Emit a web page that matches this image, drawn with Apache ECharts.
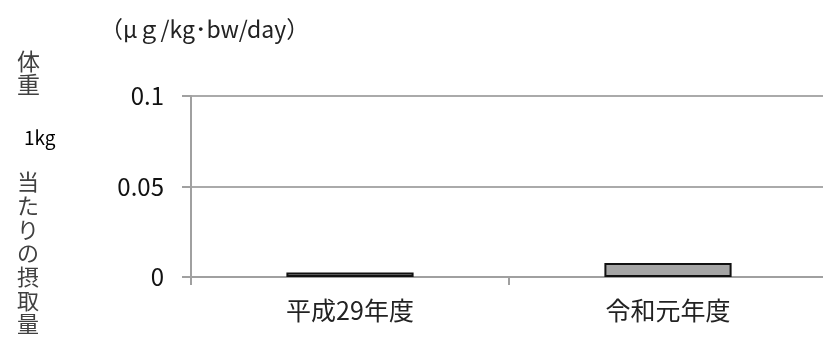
<!DOCTYPE html>
<html lang="ja">
<head>
    <meta charset="UTF-8">
    <title>摂取量</title>
    <script src="https://cdn.jsdelivr.net/npm/echarts@6/dist/echarts.min.js"></script>
    <style>
        html, body { margin: 0; padding: 0; background: #fff; }
        #main { width: 823px; height: 338px; }
    </style>
</head>
<body>
<div id="main"></div>
<script>
    var years = ['平成29年度', '令和元年度'];
    var intake = [0.0025, 0.0077];
    var yTicks = [0, 0.05, 0.1];

    var font = '"Noto Sans CJK JP", "Noto Sans", sans-serif';
    var chart = echarts.init(document.getElementById('main'));

    var option = {
        animation: false,
        textStyle: { fontFamily: font },
        // the plot runs a little past the right edge of the picture
        grid: { left: 191, top: 96, bottom: 61, width: 636, outerBoundsMode: 'none' },
        graphic: [
            { type: 'text', left: 100, top: 18, style: { text: '（μｇ/kg･bw/day）', font: '23px ' + font, fill: '#222' } },
            { type: 'text', left: 17, top: 50, style: { text: '体\n重', font: '23px ' + font, lineHeight: 23, fill: '#404040' } },
            { type: 'text', left: 24, top: 128, style: { text: '1kg', font: '19px ' + font, fill: '#000' } },
            { type: 'text', left: 17, top: 170, style: { text: '当\nた\nり\nの\n摂\n取\n量', font: '22px ' + font, lineHeight: 23.7, fill: '#404040' } }
        ],
        xAxis: {
            type: 'category',
            data: years,
            boundaryGap: true,
            axisLine: { show: true, lineStyle: { color: '#a0a0a0', width: 2 } },
            axisTick: { show: true, inside: false, interval: 0, length: 8, lineStyle: { color: '#a0a0a0', width: 2 } },
            axisLabel: { margin: 21, fontSize: 25, color: '#222', fontFamily: font }
        },
        yAxis: {
            type: 'value',
            min: yTicks[0],
            max: yTicks[2],
            interval: yTicks[1],
            axisLine: { show: true, lineStyle: { color: '#a0a0a0', width: 2 } },
            axisTick: { show: true, inside: false, length: 9, lineStyle: { color: '#a0a0a0', width: 2 } },
            splitLine: { lineStyle: { color: '#aaa', width: 2 } },
            axisLabel: { fontSize: 24, color: '#111', margin: 27, fontFamily: font }
        },
        series: [{
            type: 'bar',
            data: intake,
            barWidth: '40%',
            itemStyle: { color: '#a5a5a5', borderColor: '#111', borderWidth: 2 }
        }]
    };
    chart.setOption(option);
</script>
</body>
</html>
